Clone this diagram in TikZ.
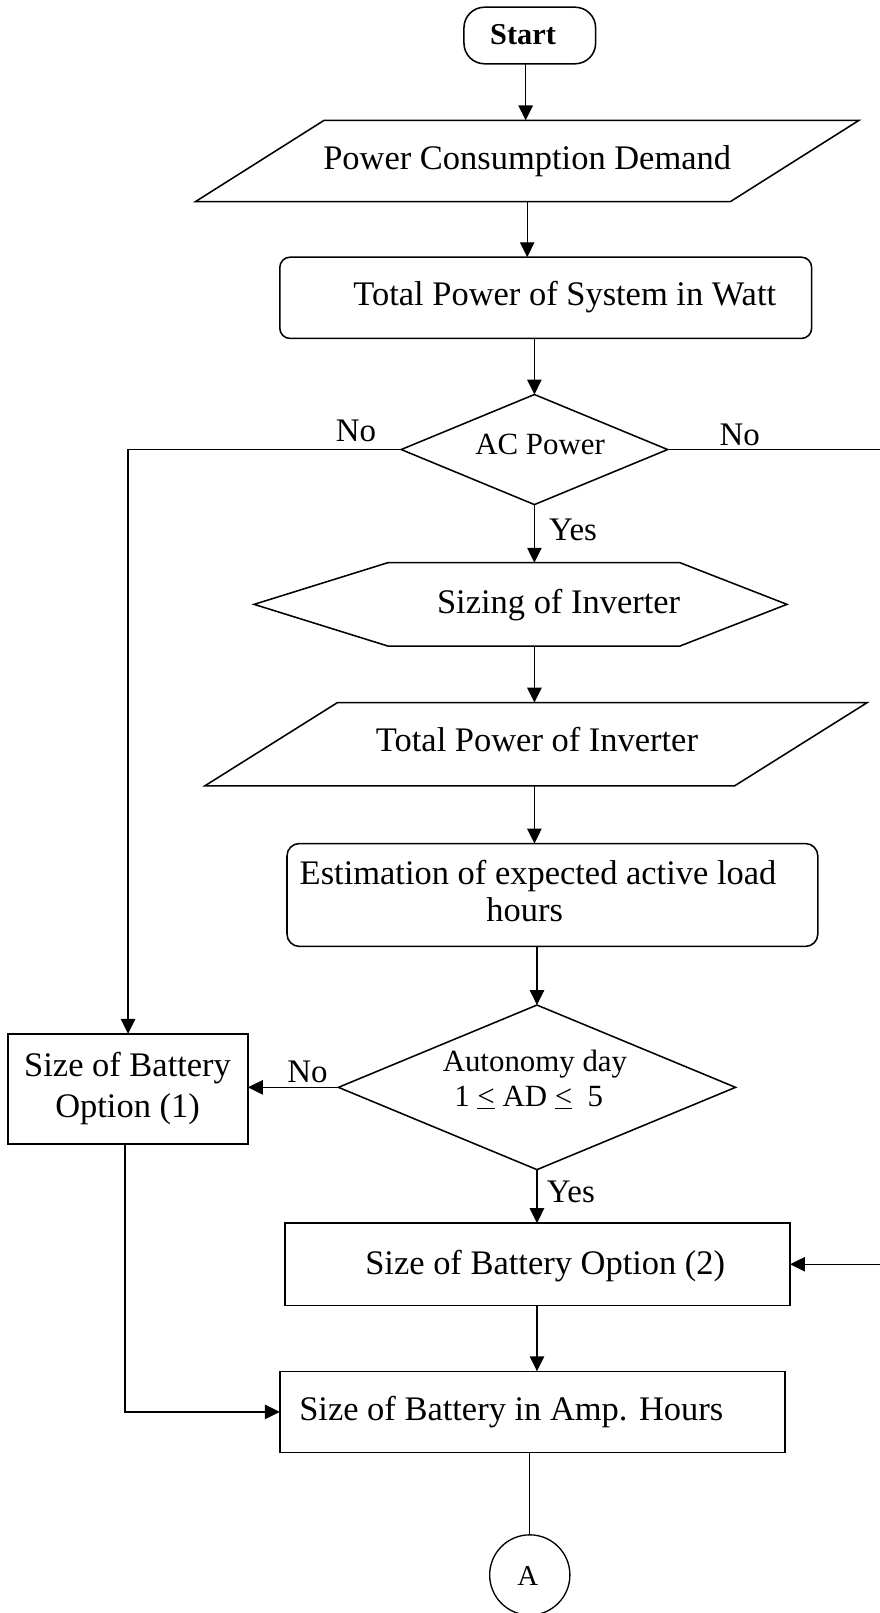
\documentclass[tikz,border=0pt]{standalone}
\usepackage{fontspec}
\setmainfont{Liberation Serif}
\usetikzlibrary{arrows.meta,shapes.geometric,calc}
\tikzset{
  shp/.style={draw=black,line width=1.5pt,inner sep=0pt,outer sep=0pt},
  ghost/.style={draw=none,inner sep=0pt,outer sep=0pt},
  conn/.style={line width=1.3pt},
  arr/.style={conn,-{Triangle[length=14.5pt,width=14pt]}},
  txt/.style={inner sep=0pt,anchor=base,font=\fontsize{33.5}{38}\selectfont},
  lbl/.style={inner sep=0pt,anchor=base,font=\fontsize{32}{36}\selectfont},
  dtxt/.style={inner sep=0pt,anchor=base,font=\fontsize{30}{34}\selectfont},
}
\begin{document}
\begin{tikzpicture}[x=1pt,y=-1pt]
\useasboundingbox (0,0) rectangle (855,1568);
% shapes
\node[shp,rounded corners=20pt,minimum width=128pt,minimum height=55pt] (start) at (515,34.5) {};
\node[ghost,minimum width=645pt,minimum height=79pt] (p1) at (512.5,156.5) {};
\draw[shp] ([xshift=125pt]p1.north west) -- (p1.north east) -- ([xshift=-125pt]p1.south east) -- (p1.south west) -- cycle;
\node[shp,rounded corners=10pt,minimum width=517pt,minimum height=79pt] (sys) at (530.5,289.5) {};
\node[shp,diamond,minimum width=259pt,minimum height=107pt] (d1) at (519.5,437) {};
\node[ghost,minimum width=518pt,minimum height=81pt] (hx) at (506,587.5) {};
\draw[shp] (hx.west) -- ([xshift=130pt]hx.north west) -- ([xshift=-104pt]hx.north east) -- (hx.east) -- ([xshift=-104pt]hx.south east) -- ([xshift=130pt]hx.south west) -- cycle;
\node[ghost,minimum width=644pt,minimum height=81pt] (p2) at (521,723.5) {};
\draw[shp] ([xshift=129pt]p2.north west) -- (p2.north east) -- ([xshift=-129pt]p2.south east) -- (p2.south west) -- cycle;
\node[shp,rounded corners=12pt,minimum width=516pt,minimum height=100pt] (est) at (537,870) {};
\node[shp,diamond,minimum width=386pt,minimum height=160pt] (d2) at (522,1057) {};
\node[shp,minimum width=233pt,minimum height=107pt] (opt1) at (124.5,1058.5) {};
\node[shp,minimum width=491pt,minimum height=80pt] (opt2) at (522.5,1229) {};
\node[shp,minimum width=491pt,minimum height=79pt] (amp) at (517.5,1372.5) {};
\node[shp,circle,line width=1.3pt,minimum size=78pt] (A) at (515,1531) {};
\coordinate (rt) at (862,437);
% texts
\node[inner sep=0pt,anchor=base,font=\fontsize{29.5}{34}\selectfont\bfseries] (tstart) at (508.5,43) {Start};
\node[txt] (tp1) at (512.5,164.5) {Power Consumption Demand};
\node[txt] (tsys) at (549,297) {Total Power of System in Watt};
\node[dtxt] (td1) at (525,442) {AC Power};
\node[lbl] (no1) at (346,429) {No};
\node[lbl] (no2) at (719,433) {No};
\node[lbl] (yes1) at (557,525) {Yes};
\node[txt] (thx) at (543,596) {Sizing of Inverter};
\node[txt] (tp2) at (522,731) {Total Power of Inverter};
\node[txt] (test1) at (523,860) {Estimation of expected active load};
\node[txt] (test2) at (510,896) {hours};
\node[dtxt] (td2a) at (520,1042) {Autonomy day};
\node[dtxt] (td2b) at (514,1076) {1 \underline{<} AD \underline{<}\ \ 5};
\node[lbl] (no3) at (299,1052) {No};
\node[txt] (topt1a) at (124,1046) {Size of Battery};
\node[txt] (topt1b) at (124,1086) {Option (1)};
\node[lbl] (yes2) at (555,1169) {Yes};
\node[txt] (topt2) at (530,1239) {Size of Battery Option (2)};
\node[txt] (tamp) at (497,1381) {Size of Battery in Amp. Hours};
\node[inner sep=0pt,anchor=base,font=\fontsize{28}{32}\selectfont] (tA) at (513,1541) {A};
% connectors
\draw[arr] ([xshift=-4pt]start.south) -- ([xshift=-4pt]start.south |- p1.north);
\draw[arr] (p1.south) -- (p1.south |- sys.north);
\draw[arr] (d1.north |- sys.south) -- (d1.north);
\draw[arr] (d1.south) -- (d1.south |- hx.north);
\draw[arr] (d1.south |- hx.south) -- (d1.south |- p2.north);
\draw[arr] (d1.south |- p2.south) -- (d1.south |- est.north);
\draw[arr] (d2.north |- est.south) -- (d2.north);
\draw[arr] (d2.south) -- (d2.south |- opt2.north);
\draw[arr] (d2.south |- opt2.south) -- (d2.south |- amp.north);
\draw[conn] (A.north |- amp.south) -- (A.north);
\draw[arr] (d1.west) -| (opt1.north);
\draw[arr] (d1.east) -- (rt) |- (opt2.east);
\draw[arr] (d2.west) -- (d2.west -| opt1.east);
\draw[arr] ([xshift=-3pt]opt1.south) |- (amp.west);
\end{tikzpicture}
\end{document}
